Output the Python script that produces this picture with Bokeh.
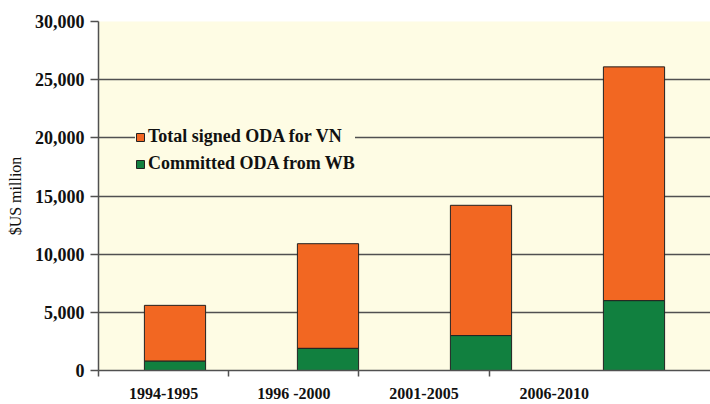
from bokeh.plotting import figure
from bokeh.models import (ColumnDataSource, Range1d, LinearAxis, FixedTicker,
                          NumeralTickFormatter, Legend, LegendItem)
from bokeh.embed import file_html
from bokeh.resources import INLINE

# ---- data ----
periods = ["1994-1995", "1996 -2000", "2001-2005", "2006-2010"]
total_oda = [5600, 10900, 14200, 26100]       # Total signed ODA for VN ($US million)
wb_oda = [800, 1900, 3000, 6000]              # Committed ODA from WB ($US million)
y_ticks = [0, 5000, 10000, 15000, 20000, 25000, 30000]

ORANGE = "#F26722"
GREEN = "#11803F"
GRID = "#505050"
BG = "#FEFCE4"
FONT = "Liberation Serif"

n = len(periods)
src = ColumnDataSource(dict(
    idx=[i + 0.5 for i in range(n)],
    period=periods,
    wb=wb_oda,
    total=total_oda,
    zero=[0] * n,
))

p = figure(width=710, height=404, x_range=Range1d(0, n), y_range=Range1d(0, 30000),
           output_backend="svg", toolbar_location=None,
           min_border_left=98, min_border_right=0, min_border_top=21,
           min_border_bottom=34)
p.background_fill_color = BG
p.border_fill_color = "white"
p.outline_line_color = None

# stacked bars
r_total = p.vbar(x="idx", bottom="wb", top="total", width=0.4, source=src,
                 fill_color=ORANGE, line_color="#222222", line_width=1)
r_wb = p.vbar(x="idx", bottom="zero", top="wb", width=0.4, source=src,
              fill_color=GREEN, line_color="#222222", line_width=1)

# y axis
p.yaxis.ticker = FixedTicker(ticks=y_ticks)
p.yaxis.formatter = NumeralTickFormatter(format="0,0")
p.yaxis.major_label_text_font = FONT
p.yaxis.major_label_text_font_style = "bold"
p.yaxis.major_label_text_font_size = "18px"
p.yaxis.major_label_text_color = "#111111"
p.yaxis.major_tick_out = 8
p.yaxis.major_tick_in = 0
p.yaxis.minor_tick_line_color = None
p.yaxis.major_tick_line_color = GRID
p.yaxis.major_tick_line_width = 1.5
p.yaxis.axis_line_color = GRID
p.yaxis.axis_line_width = 1.5
p.yaxis.major_label_standoff = 6
p.yaxis.axis_label = "$US million"
p.yaxis.axis_label_text_font = FONT
p.yaxis.axis_label_text_font_style = "normal"
p.yaxis.axis_label_text_font_size = "16px"
p.yaxis.axis_label_text_color = "#111111"
p.yaxis.axis_label_standoff = 8

p.ygrid.ticker = FixedTicker(ticks=y_ticks)
p.ygrid.grid_line_color = GRID
p.ygrid.grid_line_width = 1.5
p.xgrid.grid_line_color = None

# x axis: hide default one, use a labelled axis on its own range
p.xaxis.visible = False
p.extra_x_ranges = {"lab": Range1d(0, n + 0.7)}
xax = LinearAxis(x_range_name="lab")
xax.ticker = FixedTicker(ticks=[i + 0.5 for i in range(n)],
                         minor_ticks=list(range(n)))
xax.major_label_overrides = {i + 0.5: periods[i] for i in range(n)}
xax.major_tick_line_color = None
xax.minor_tick_line_color = GRID
xax.minor_tick_line_width = 1.5
xax.minor_tick_out = 6
xax.minor_tick_in = 0
xax.axis_line_color = GRID
xax.axis_line_width = 1.5
xax.major_label_text_font = FONT
xax.major_label_text_font_style = "bold"
xax.major_label_text_font_size = "16px"
xax.major_label_text_color = "#111111"
xax.major_label_standoff = 8
p.add_layout(xax, "below")

legend = Legend(items=[
    LegendItem(label="Total signed ODA for VN", renderers=[r_total]),
    LegendItem(label="Committed ODA from WB", renderers=[r_wb]),
], location=(37, 196))
legend.background_fill_color = BG
legend.background_fill_alpha = 1
legend.border_line_color = None
legend.padding = 8
legend.margin = 0
legend.spacing = 6
legend.glyph_width = 10
legend.glyph_height = 10
legend.label_height = 20
legend.label_standoff = 3
legend.label_text_font = FONT
legend.label_text_font_style = "bold"
legend.label_text_font_size = "18px"
legend.label_text_color = "#111111"
p.add_layout(legend, "center")

open("out.html", "w").write(file_html(p, INLINE))
